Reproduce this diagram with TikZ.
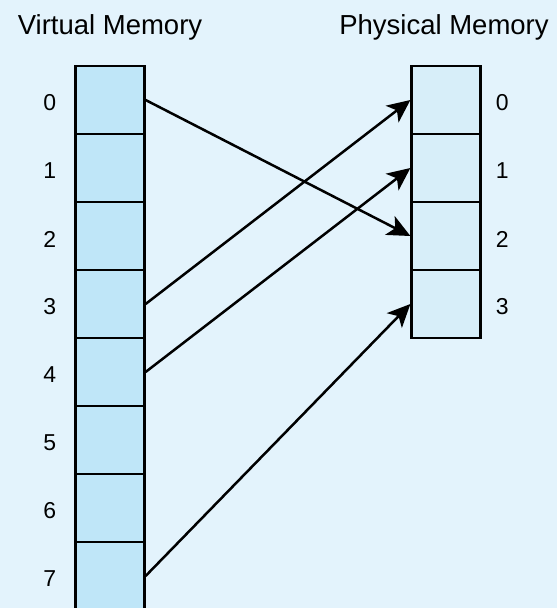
\documentclass[tikz,border=0pt]{standalone}
\usepackage{fontspec}
\setmainfont{Liberation Sans}
\usetikzlibrary{arrows.meta,positioning}
\definecolor{PageBg}{HTML}{E3F3FC}
\definecolor{VirtFill}{HTML}{BFE6F8}
\definecolor{PhysFill}{HTML}{D7EEF9}

\begin{document}
\begin{tikzpicture}[
    x=1pt,y=-1pt,
    vcell/.style={draw,line width=2.2pt,fill=VirtFill,
      minimum width=69pt,minimum height=68pt,inner sep=0pt},
    pcell/.style={vcell,fill=PhysFill},
    title/.style={font=\fontsize{27.5}{32}\selectfont,anchor=base},
    index/.style={font=\fontsize{23}{27}\selectfont,inner sep=0pt},
    mapping/.style={-{Stealth[length=23pt,width=21pt,inset=6pt]},line width=2.5pt}
  ]
  \fill[PageBg] (0,0) rectangle (557,608);
  \useasboundingbox (0,0) rectangle (557,608);

  \node[title] (vtitle) at (110,34) {Virtual Memory};
  \node[title] (ptitle) at (444,34) {Physical Memory};

  % page table columns
  \foreach \i in {0,...,7}{
    \node[vcell] (v\i) at (110,100+68*\i) {};
    \node[index,left=18pt of v\i,yshift=-3pt] {\i};
  }
  \foreach \i in {0,...,3}{
    \node[pcell] (p\i) at (446,100+68*\i) {};
    \node[index,right=14pt of p\i,yshift=-3pt] {\i};
  }

  \draw[mapping] (v0.east) -- (p2.west);
  \draw[mapping] (v3.east) -- (p0.west);
  \draw[mapping] (v4.east) -- (p1.west);
  \draw[mapping] (v7.east) -- (p3.west);
\end{tikzpicture}
\end{document}
